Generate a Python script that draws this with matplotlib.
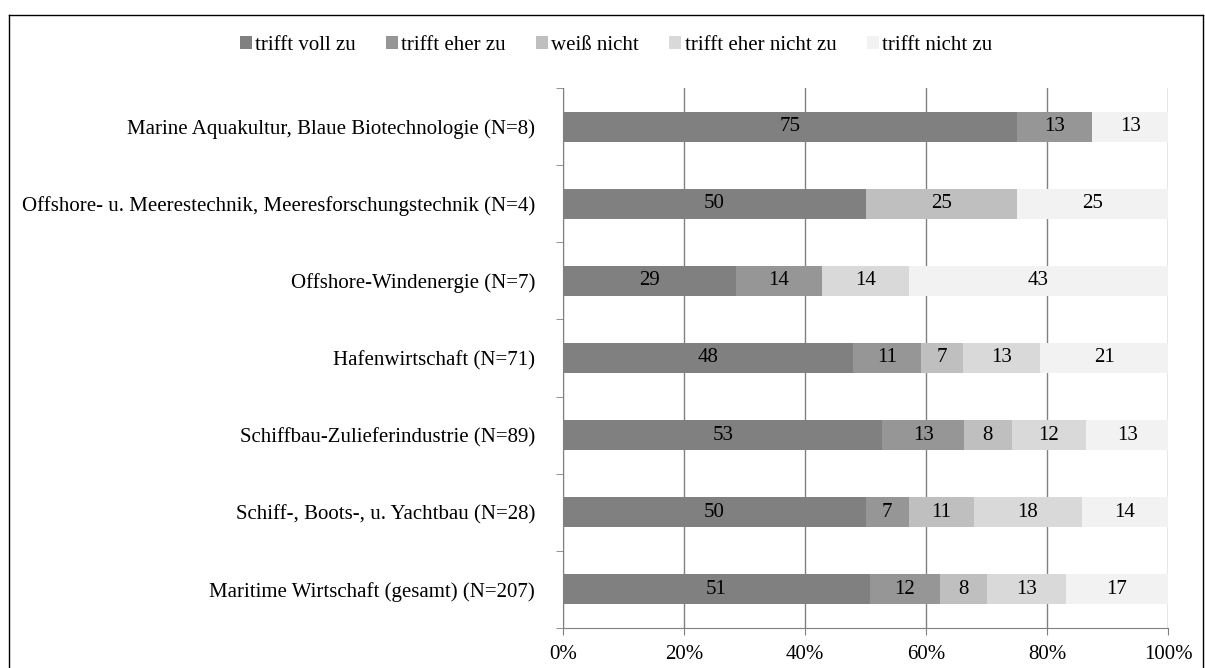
import matplotlib
matplotlib.use("Agg")
import matplotlib.pyplot as plt
from matplotlib.lines import Line2D
import numpy as np

plt.rcParams.update({
    "font.family": ["Liberation Serif", "DejaVu Serif"],
    "font.size": 15,
})

# ── Daten: Anzahl Antworten je Branche (N in Klammern) ───────────────────────
categories = [
    "Marine Aquakultur, Blaue Biotechnologie (N=8)",
    "Offshore- u. Meerestechnik, Meeresforschungstechnik (N=4)",
    "Offshore-Windenergie (N=7)",
    "Hafenwirtschaft (N=71)",
    "Schiffbau-Zulieferindustrie (N=89)",
    "Schiff-, Boots-, u. Yachtbau (N=28)",
    "Maritime Wirtschaft (gesamt) (N=207)",
]
series_names = ["trifft voll zu", "trifft eher zu", "weiß nicht",
                "trifft eher nicht zu", "trifft nicht zu"]
voll_zu = [6, 2, 2, 34, 47, 14, 105]
eher_zu = [1, 0, 1, 8, 12, 2, 24]
weiss_nicht = [0, 1, 0, 5, 7, 3, 16]
eher_nicht_zu = [0, 0, 1, 9, 11, 5, 27]
nicht_zu = [1, 1, 3, 15, 12, 4, 35]
x_ticks = [0, 20, 40, 60, 80, 100]

colors = ["#808080", "#969696", "#bfbfbf", "#d9d9d9", "#f2f2f2"]

vals = np.array([voll_zu, eher_zu, weiss_nicht, eher_nicht_zu, nicht_zu],
                dtype=float)
shares = vals / vals.sum(axis=0) * 100  # 100%-gestapelt

fig = plt.figure(figsize=(12.05, 6.68), dpi=100)
ax = fig.add_axes([563 / 1205, 1 - 628 / 668, 605 / 1205, 540 / 668])

y = np.arange(len(categories))[::-1]
left = np.zeros(len(categories))
for i, name in enumerate(series_names):
    ax.barh(y, shares[i], left=left, height=0.39, color=colors[i],
            label=name, zorder=3)
    for yy, l, w in zip(y, left, shares[i]):
        if w > 0:
            ax.text(l + w / 2, yy, f"{int(w + 0.5)}", ha="center",
                    va="center", fontsize=15, color="black", zorder=4)
    left += shares[i]

ax.set_xlim(0, 100)
ax.set_ylim(-0.5, len(categories) - 0.5)
ax.set_xticks(x_ticks)
ax.set_xticklabels([f"{t}%" for t in x_ticks])
ax.set_yticks(y)
ax.set_yticklabels(categories)
ax.set_yticks(np.arange(-0.5, len(categories)), minor=True)
ax.tick_params(axis="y", which="major", length=0, pad=20)
ax.tick_params(axis="y", which="minor", length=5, color="#808080")
ax.tick_params(axis="x", length=5, color="#808080", pad=7)
ax.grid(axis="x", color="#808080", lw=1.0, zorder=0)
for s in ("top", "right"):
    ax.spines[s].set_visible(False)
for s in ("left", "bottom"):
    ax.spines[s].set_color("#808080")

handles, labels = ax.get_legend_handles_labels()
fig.legend(handles, labels, loc="center",
           bbox_to_anchor=(616 / 1205, 1 - 45 / 668),
           ncol=5, frameon=False, handlelength=0.58, handleheight=0.58,
           handletextpad=0.15, columnspacing=1.45, fontsize=15)

# Rahmen um das Diagramm
for xs, ys in [((9 / 1205, 9 / 1205), (0, 1 - 15 / 668)),
               ((9 / 1205, 1203 / 1205), (1 - 15 / 668, 1 - 15 / 668)),
               ((1203 / 1205, 1203 / 1205), (0, 1 - 15 / 668))]:
    fig.add_artist(Line2D(xs, ys, color="black", lw=1.0,
                          transform=fig.transFigure))

fig.savefig("out.png", dpi=100)
